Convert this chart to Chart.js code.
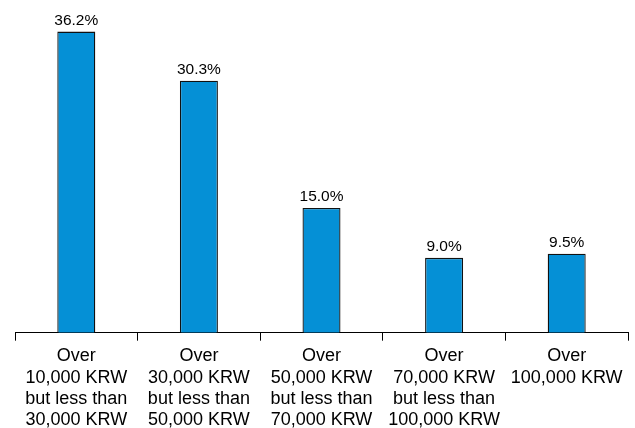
<!DOCTYPE html>
<html>
<head>
<meta charset="utf-8">
<script src="https://cdn.jsdelivr.net/npm/chart.js@4.4.0/dist/chart.umd.min.js"></script>
<style>
  html, body { margin: 0; padding: 0; background: #fff; }
  #wrap { width: 635px; height: 428px; }
</style>
</head>
<body>
<div id="wrap"><canvas id="grafico"></canvas></div>
<script>
var categorias = [
    ['Over', '10,000 KRW', 'but less than', '30,000 KRW'],
    ['Over', '30,000 KRW', 'but less than', '50,000 KRW'],
    ['Over', '50,000 KRW', 'but less than', '70,000 KRW'],
    ['Over', '70,000 KRW', 'but less than', '100,000 KRW'],
    ['Over', '100,000 KRW']
]
var valores = [36.2, 30.3, 15.0, 9.0, 9.5]

// etiquetas em cima das barras
var rotulos = {
    id: 'rotulos',
    afterDatasetsDraw(chart) {
        let c = chart.ctx
        let meta = chart.getDatasetMeta(0)
        c.save()
        c.font = '15.5px "Liberation Sans", Arial, sans-serif'
        c.fillStyle = '#000'
        c.textAlign = 'center'
        c.textBaseline = 'bottom'
        meta.data.forEach((bar, i) => {
            c.fillText(valores[i].toFixed(1) + '%', bar.x, bar.y - 3)
        })
        c.restore()
    }
}

var ctx = document.getElementById('grafico')

var myChart = new Chart(ctx, {
    type: 'bar',
    data: {
        labels: categorias,
        datasets: [{
            data: valores,
            backgroundColor: '#0590d6',
            borderColor: '#111',
            borderWidth: 1.3,
            categoryPercentage: 1,
            barPercentage: 0.31
        }]
    },
    options: {
        responsive: true,
        maintainAspectRatio: false,
        animation: false,
        layout: { padding: { left: 15, right: 7, top: 0, bottom: -8 } },
        plugins: {
            legend: { display: false },
            tooltip: { enabled: false }
        },
        scales: {
            y: {
                display: false,
                min: 0,
                max: 40
            },
            x: {
                offset: true,
                grid: {
                    offset: true,
                    drawOnChartArea: false,
                    drawTicks: true,
                    tickLength: 8,
                    color: '#000',
                    lineWidth: 1
                },
                border: { display: true, color: '#000', width: 1 },
                ticks: {
                    color: '#000',
                    autoSkip: false,
                    maxRotation: 0,
                    padding: 5,
                    font: { family: '"Liberation Sans", Arial, sans-serif', size: 18, lineHeight: 1.185 }
                }
            }
        }
    },
    plugins: [rotulos]
})
</script>
</body>
</html>
